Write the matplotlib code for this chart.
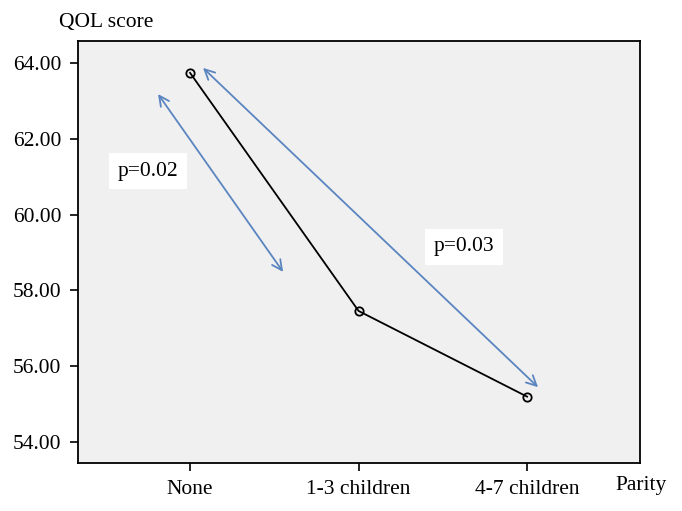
import matplotlib
matplotlib.use("Agg")
import matplotlib.pyplot as plt

# 数据
categories = ["None", "1-3 children", "4-7 children"]
qol_scores = [63.74, 57.46, 55.20]
y_ticks = [54.0, 56.0, 58.0, 60.0, 62.0, 64.0]

# 标注：双向箭头与 p 值
arrow_a = [(-0.19, 63.18), (0.552, 58.49)]
arrow_b = [(0.077, 63.87), (2.065, 55.45)]
p_labels = ["p=0.02", "p=0.03"]
p_pos = [(-0.249, 61.15), (1.626, 59.15)]

plt.rcParams['font.family'] = ['Liberation Serif', 'DejaVu Serif']
fs = 15.5

fig = plt.figure(figsize=(6.82, 5.11), dpi=100)
ax = fig.add_axes([78 / 682, 1 - 463 / 511, (640 - 78) / 682, (463 - 41) / 511])
ax.set_facecolor("#f0f0f0")

x = list(range(len(categories)))
ax.plot(x, qol_scores, color="black", lw=1.3, marker="o", ms=6,
        mfc="none", mec="black", mew=1.3)

blue = "#5a85c0"
for (p0, p1) in (arrow_a, arrow_b):
    ax.annotate("", xy=p1, xytext=p0,
                arrowprops=dict(arrowstyle="<->", color=blue, lw=1.3,
                                mutation_scale=18, shrinkA=0, shrinkB=0))

for txt, (px, py) in zip(p_labels, p_pos):
    ax.text(px, py, txt, ha="center", va="center", fontsize=fs,
            bbox=dict(boxstyle="square,pad=0.4", fc="white", ec="none"))

ax.set_xlim(-0.665, 2.67)
ax.set_ylim(53.45, 64.58)
ax.set_xticks(x)
ax.set_xticklabels(categories)
ax.set_yticks(y_ticks)
ax.set_yticklabels([f"{v:.2f}" for v in y_ticks])
ax.tick_params(labelsize=fs, direction="out", length=6, width=1.2, pad=6)
for s in ax.spines.values():
    s.set_linewidth(1.3)

fig.text(106 / 682, 1 - 22 / 511, "QOL score", ha="center", va="center", fontsize=fs)
fig.text(641 / 682, 1 - 485 / 511, "Parity", ha="center", va="center", fontsize=fs)

fig.savefig("out.png", dpi=100)
